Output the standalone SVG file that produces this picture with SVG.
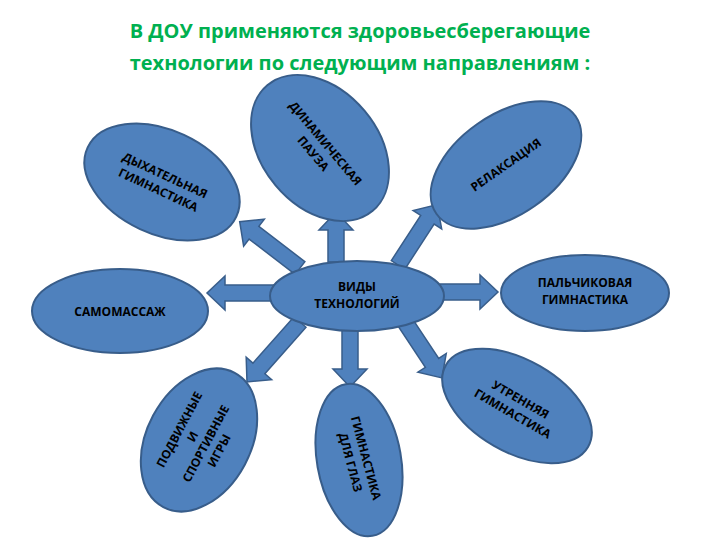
<svg xmlns="http://www.w3.org/2000/svg" width="720" height="540" viewBox="0 0 720 540">
<style>
.n{fill:#4f81bd;stroke:#385d8a;stroke-width:2}
.a{fill:#4f81bd;stroke:#385d8a;stroke-width:1.5}
.t{font-family:"Open Sans","Liberation Sans",sans-serif;font-weight:bold;font-size:12px;fill:#000;text-anchor:middle}
.h{font-family:"Open Sans","Liberation Sans",sans-serif;font-weight:bold;font-size:20px;fill:#00b050;text-anchor:middle}
</style>
<rect width="720" height="540" fill="#fff"/>
<text class="h" x="360" y="38">В ДОУ применяются здоровьесберегающие</text>
<text class="h" x="360" y="70">технологии по следующим направлениям :</text>
<g id="connectors">
<path class="a" transform="translate(336,262) rotate(-90)" d="M0,-8H32V-17L50,0L32,17V8H0Z"/>
<path class="a" transform="translate(300,268) rotate(-142.5)" d="M0,-8H58V-17L76,0L58,17V8H0Z"/>
<path class="a" transform="translate(275,293) rotate(180)" d="M0,-8H50V-17L68,0L50,17V8H0Z"/>
<path class="a" transform="translate(398,265) rotate(-57)" d="M0,-8H54V-17L72,0L54,17V8H0Z"/>
<path class="a" transform="translate(440,292)" d="M0,-8H40V-17L58,0L40,17V8H0Z"/>
<path class="a" transform="translate(405,322) rotate(56.5)" d="M0,-8H49V-17L67,0L49,17V8H0Z"/>
<path class="a" transform="translate(350,328) rotate(90)" d="M0,-8H41V-17L59,0L41,17V8H0Z"/>
<path class="a" transform="translate(300,322) rotate(131.5)" d="M0,-8H62V-17L80,0L62,17V8H0Z"/>
</g>
<g id="center"><ellipse class="n" cx="357" cy="296" rx="87" ry="35"/>
<text class="t" x="357" y="291">ВИДЫ</text><text class="t" x="357" y="308">ТЕХНОЛОГИЙ</text></g>
<g id="dyh" transform="translate(162,182) rotate(25)"><ellipse class="n" rx="82" ry="52"/>
<text class="t" y="-3">ДЫХАТЕЛЬНАЯ</text><text class="t" y="13">ГИМНАСТИКА</text></g>
<g id="din" transform="translate(320,148) rotate(50)"><ellipse class="n" rx="82" ry="58"/>
<text class="t" y="-3">ДИНАМИЧЕСКАЯ</text><text class="t" y="13">ПАУЗА</text></g>
<g id="rel" transform="translate(506,165) rotate(-35)"><ellipse class="n" rx="85" ry="50"/>
<text class="t" y="4">РЕЛАКСАЦИЯ</text></g>
<g id="pal"><ellipse class="n" cx="585" cy="293" rx="84" ry="38"/>
<text class="t" x="585" y="287">ПАЛЬЧИКОВАЯ</text><text class="t" x="585" y="304">ГИМНАСТИКА</text></g>
<g id="sam"><ellipse class="n" cx="120" cy="311" rx="88" ry="42"/>
<text class="t" x="120" y="316">САМОМАССАЖ</text></g>
<g id="podv" transform="translate(199,440) rotate(-62)"><ellipse class="n" rx="76" ry="52"/>
<text class="t" y="-18">ПОДВИЖНЫЕ</text><text class="t" y="-3">И</text><text class="t" y="12">СПОРТИВНЫЕ</text><text class="t" y="27">ИГРЫ</text></g>
<g id="glaz" transform="translate(359,460) rotate(80)"><ellipse class="n" rx="77" ry="42"/>
<g transform="rotate(-5)"><text class="t" y="-3">ГИМНАСТИКА</text><text class="t" y="13">ДЛЯ ГЛАЗ</text></g></g>
<g id="utr" transform="translate(517,406) rotate(30)"><ellipse class="n" rx="82" ry="46"/>
<text class="t" y="-3">УТРЕННЯЯ</text><text class="t" y="13">ГИМНАСТИКА</text></g>
</svg>
